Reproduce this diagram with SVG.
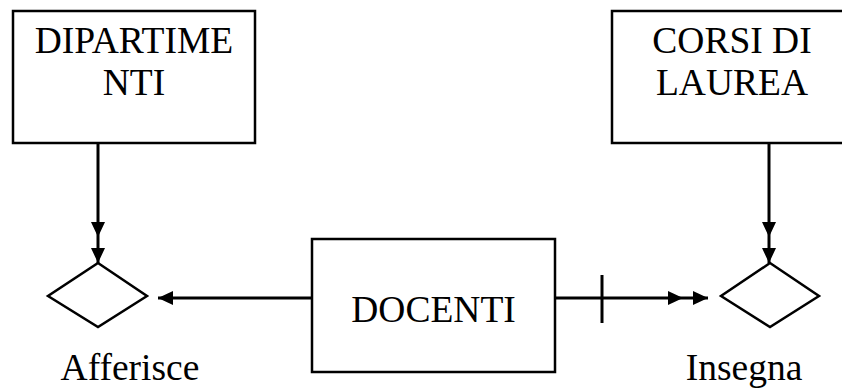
<svg xmlns="http://www.w3.org/2000/svg" width="842" height="391" viewBox="0 0 842 391">
<style>
.box{fill:#fff;stroke:#000;stroke-width:2.5}
.dia{fill:#fff;stroke:#000;stroke-width:2.5}
.conn{fill:none;stroke:#000;stroke-width:3}
.lbl{font-family:"Liberation Serif","Times New Roman",serif;font-size:37.5px;fill:#000;text-anchor:middle}
</style>
<defs>
<marker id="arr" viewBox="0 0 15 14" refX="15" refY="7" markerWidth="15" markerHeight="14" markerUnits="userSpaceOnUse" orient="auto">
<path d="M0,0 L15,7 L0,14 z" fill="#000"/>
</marker>
</defs>
<rect width="842" height="391" fill="#fff"/>
<g id="connectors">
<path class="conn" d="M98,143 L98,237 L98,263" marker-mid="url(#arr)" marker-end="url(#arr)"/>
<path class="conn" d="M769,143 L769,237 L769,263" marker-mid="url(#arr)" marker-end="url(#arr)"/>
<path class="conn" d="M312,298 L158,298" marker-end="url(#arr)"/>
<path class="conn" d="M555,298 L683,298 L708,298" marker-mid="url(#arr)" marker-end="url(#arr)"/>
<line class="conn" x1="602" y1="275" x2="602" y2="323"/>
</g>
<g id="dipartimenti">
<rect class="box" x="13" y="11" width="242" height="132"/>
<text class="lbl" x="134" y="53">DIPARTIME</text>
<text class="lbl" x="134" y="95">NTI</text>
</g>
<g id="corsi">
<rect class="box" x="612" y="11" width="240" height="132"/>
<text class="lbl" x="732" y="53">CORSI DI</text>
<text class="lbl" x="732" y="95">LAUREA</text>
</g>
<g id="docenti">
<rect class="box" x="312" y="239" width="243" height="133"/>
<text class="lbl" x="433.5" y="322">DOCENTI</text>
</g>
<g id="afferisce">
<polygon class="dia" points="98,263 147,296 98,327 48,296"/>
<text class="lbl" x="130" y="380">Afferisce</text>
</g>
<g id="insegna">
<polygon class="dia" points="770,263 819,296 770,327 721,296"/>
<text class="lbl" x="744" y="380">Insegna</text>
</g>
</svg>
